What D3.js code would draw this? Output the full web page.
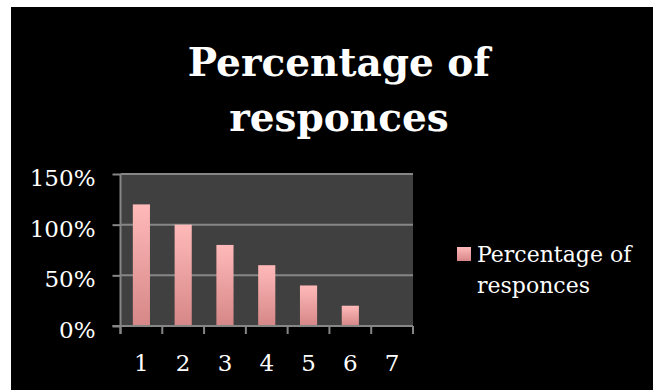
<!DOCTYPE html>
<html>
<head>
<meta charset="utf-8">
<script src="https://cdn.jsdelivr.net/npm/d3@7"></script>
<style>
  html, body { margin: 0; padding: 0; background: #ffffff; }
  svg { display: block; }
</style>
</head>
<body>
<script>
// Chart data
const categories = ["1", "2", "3", "4", "5", "6", "7"];
const values = [1.2, 1.0, 0.8, 0.6, 0.4, 0.2, 0];
const yTicks = [0, 0.5, 1.0, 1.5];
const seriesName = ["Percentage of", "responces"];
const titleLines = ["Percentage of", "responces"];

const W = 653, H = 390;
const plot = { left: 120.5, right: 413, top: 174, bottom: 326 };
const serif = "'DejaVu Serif', 'Liberation Serif', serif";

const svg = d3.select("body").append("svg")
  .attr("width", W).attr("height", H);

const defs = svg.append("defs");
const grad = defs.append("linearGradient")
  .attr("id", "barFill").attr("x1", 0).attr("y1", 0).attr("x2", 0).attr("y2", 1);
grad.append("stop").attr("offset", "0%").attr("stop-color", "#ffb9b9");
grad.append("stop").attr("offset", "100%").attr("stop-color", "#d68787");

// Black chart area
svg.append("rect").attr("x", 11).attr("y", 7).attr("width", W - 11).attr("height", H - 7)
  .attr("fill", "#000000");

// Title
svg.append("text")
  .attr("text-anchor", "middle")
  .attr("font-family", serif).attr("font-weight", "bold").attr("font-size", 39)
  .attr("fill", "#ffffff")
  .selectAll("tspan").data(titleLines).join("tspan")
  .attr("x", 339).attr("y", (d, i) => 76 + i * 55).text(d => d);

// Scales
const x = d3.scaleBand().domain(categories).range([plot.left, plot.right])
  .paddingInner(0.59).paddingOuter(0.295);
const y = d3.scaleLinear().domain([0, 1.5]).range([plot.bottom, plot.top]);

// Plot background
svg.append("rect").attr("x", plot.left).attr("y", plot.top)
  .attr("width", plot.right - plot.left).attr("height", plot.bottom - plot.top)
  .attr("fill", "#404040");

// Gridlines
svg.append("g").selectAll("line").data(yTicks.filter(t => t > 0)).join("line")
  .attr("x1", plot.left).attr("x2", plot.right)
  .attr("y1", d => y(d)).attr("y2", d => y(d))
  .attr("stroke", "#868686").attr("stroke-width", 2);

// Bars
svg.append("g").selectAll("rect").data(values.map((v, i) => ({ c: categories[i], v })))
  .join("rect")
  .attr("x", d => x(d.c)).attr("width", x.bandwidth())
  .attr("y", d => y(d.v)).attr("height", d => y(0) - y(d.v))
  .attr("fill", "url(#barFill)");

// Y axis
const yAxis = svg.append("g").attr("transform", `translate(${plot.left},0)`)
  .call(d3.axisLeft(y).tickValues(yTicks).tickFormat(d3.format(".0%")).tickSize(8).tickPadding(17));
yAxis.select(".domain").attr("stroke", "#868686").attr("stroke-width", 2)
  .attr("d", `M0,${plot.top}V${plot.bottom + 8}`);
yAxis.selectAll(".tick line").attr("stroke", "#868686").attr("stroke-width", 2);
yAxis.selectAll(".tick text").attr("fill", "#ffffff").attr("font-family", serif)
  .attr("font-size", 23).attr("dy", "0.5em");

// X axis: ticks sit on category boundaries
const xAxisG = svg.append("g").attr("transform", `translate(0,${plot.bottom})`);
xAxisG.append("line").attr("x1", plot.left - 8).attr("x2", plot.right)
  .attr("y1", 0).attr("y2", 0).attr("stroke", "#868686").attr("stroke-width", 2);
xAxisG.selectAll("line.tk").data(categories.map((c, i) => plot.left + i * x.step()).concat([plot.right]))
  .join("line").attr("class", "tk")
  .attr("x1", d => d).attr("x2", d => d).attr("y1", 0).attr("y2", 8)
  .attr("stroke", "#868686").attr("stroke-width", 2);
xAxisG.selectAll("text").data(categories).join("text")
  .attr("x", d => x(d) + x.bandwidth() / 2).attr("y", 45)
  .attr("text-anchor", "middle").attr("fill", "#ffffff")
  .attr("font-family", serif).attr("font-size", 23).text(d => d);

// Legend
const lg = svg.append("g");
lg.append("rect").attr("x", 457).attr("y", 247).attr("width", 14).attr("height", 14)
  .attr("fill", "url(#barFill)");
lg.append("text").attr("fill", "#ffffff").attr("font-family", serif).attr("font-size", 22)
  .selectAll("tspan").data(seriesName).join("tspan")
  .attr("x", 477).attr("y", (d, i) => 262 + i * 31).text(d => d);
</script>
</body>
</html>
